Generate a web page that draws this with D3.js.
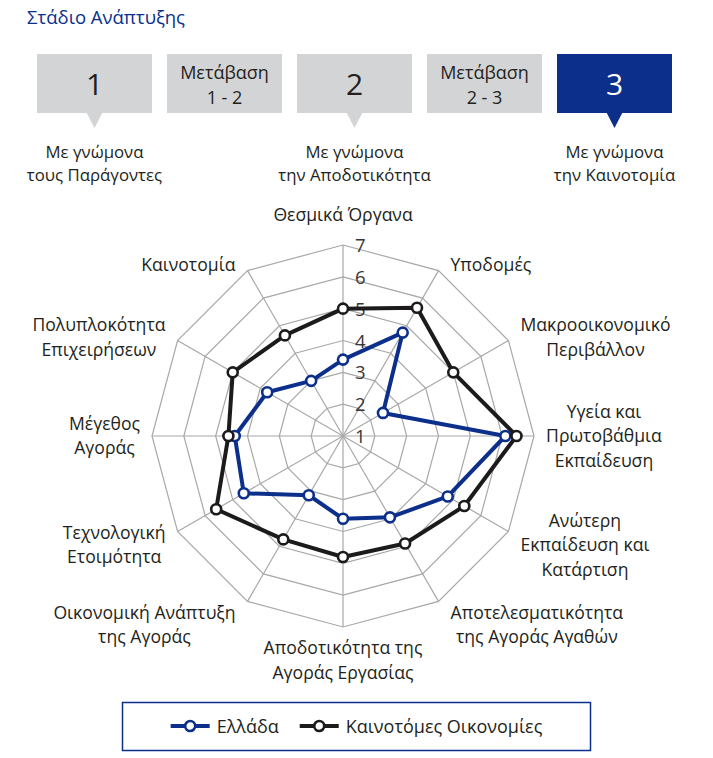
<!DOCTYPE html>
<html>
<head>
<meta charset="utf-8">
<script src="https://cdn.jsdelivr.net/npm/d3@7"></script>
<style>
  html, body { margin: 0; padding: 0; background: #ffffff; }
  svg { display: block; }
  text { font-family: "Open Sans", "Noto Sans", sans-serif; }
</style>
</head>
<body>
<svg id="chart" width="713" height="758"></svg>
<script>
// ---------- DATA ----------
const categories = [
  "Θεσμικά Όργανα",
  "Υποδομές",
  "Μακροοικονομικό\nΠεριβάλλον",
  "Υγεία και\nΠρωτοβάθμια\nΕκπαίδευση",
  "Ανώτερη\nΕκπαίδευση και\nΚατάρτιση",
  "Αποτελεσματικότητα\nτης Αγοράς Αγαθών",
  "Αποδοτικότητα της\nΑγοράς Εργασίας",
  "Οικονομική Ανάπτυξη\nτης Αγοράς",
  "Τεχνολογική\nΕτοιμότητα",
  "Μέγεθος\nΑγοράς",
  "Πολυπλοκότητα\nΕπιχειρήσεων",
  "Καινοτομία"
];
const greeceValues     = [3.4, 4.75, 2.45, 6.1, 4.8, 3.95, 3.6, 3.15, 4.6, 4.4, 3.75, 3.0];
const innovatorsValues = [5.0, 5.65, 5.0, 6.45, 5.4, 4.9, 4.8, 4.75, 5.6, 4.6, 5.0, 4.65];
const seriesNames = ["Ελλάδα", "Καινοτόμες Οικονομίες"];
const tickValues = [1, 2, 3, 4, 5, 6, 7];
const titleText = "Στάδιο Ανάπτυξης";
const stageLabels = ["1", "Μετάβαση\n1 - 2", "2", "Μετάβαση\n2 - 3", "3"];
const stageCaptions = ["Με γνώμονα\nτους Παράγοντες", "", "Με γνώμονα\nτην Αποδοτικότητα", "", "Με γνώμονα\nτην Καινοτομία"];
const activeStage = 4;

// ---------- STYLE ----------
const BLUE = "#0b2f8a";
const BLACK = "#1c1a1a";
const GREY_BOX = "#d3d4d6";
const GRID = "#a8a8a8";
const TEXT = "#231f20";

const svg = d3.select("#chart");

// ---------- HEADER ----------
svg.append("text")
  .attr("x", 27).attr("y", 24)
  .attr("fill", BLUE)
  .attr("font-size", 18.5)
  .text(titleText);

const xBand = d3.scaleBand()
  .domain(d3.range(stageLabels.length))
  .range([37, 672])
  .paddingInner(15 / 130);

const boxTop = 54, boxH = 59;
const stages = svg.append("g").selectAll("g").data(stageLabels).join("g")
  .attr("transform", (d, i) => `translate(${xBand(i)},${boxTop})`);

stages.append("rect")
  .attr("width", xBand.bandwidth())
  .attr("height", boxH)
  .attr("fill", (d, i) => i === activeStage ? BLUE : GREY_BOX);

stages.each(function(d, i) {
  const g = d3.select(this);
  const lines = d.split("\n");
  const cx = xBand.bandwidth() / 2;
  if (lines.length === 1) {
    g.append("text")
      .attr("x", cx).attr("y", boxH / 2 + 11)
      .attr("text-anchor", "middle")
      .attr("font-size", 30)
      .attr("fill", i === activeStage ? "#ffffff" : TEXT)
      .text(d);
  } else {
    lines.forEach((ln, k) => {
      g.append("text")
        .attr("x", cx).attr("y", 25 + k * 25)
        .attr("text-anchor", "middle")
        .attr("font-size", 18)
        .attr("fill", i === activeStage ? "#ffffff" : TEXT)
        .text(ln);
    });
  }
  const cap = stageCaptions[i];
  if (cap) {
    g.append("path")
      .attr("d", `M${cx - 8},${boxH - 0.5} L${cx + 8},${boxH - 0.5} L${cx},${boxH + 15} Z`)
      .attr("fill", i === activeStage ? BLUE : GREY_BOX);
    cap.split("\n").forEach((ln, k) => {
      g.append("text")
        .attr("x", cx).attr("y", 104 + k * 23)
        .attr("text-anchor", "middle")
        .attr("font-size", 16.8)
        .attr("fill", TEXT)
        .text(ln);
    });
  }
});

// ---------- RADAR ----------
const cx = 343, cy = 436, R = 191;
const n = categories.length;
const rScale = d3.scaleLinear().domain([1, 7]).range([0, R]);
const angle = i => i * 2 * Math.PI / n;
const pt = (i, v) => [cx + rScale(v) * Math.sin(angle(i)), cy - rScale(v) * Math.cos(angle(i))];

const grid = svg.append("g");
// rings
tickValues.filter(t => t > 1).forEach(t => {
  grid.append("path")
    .attr("d", d3.line()(d3.range(n).map(i => pt(i, t))) + "Z")
    .attr("fill", "none")
    .attr("stroke", GRID)
    .attr("stroke-width", 1.2);
});
// spokes
d3.range(n).forEach(i => {
  const [x2, y2] = pt(i, 7);
  grid.append("line")
    .attr("x1", cx).attr("y1", cy).attr("x2", x2).attr("y2", y2)
    .attr("stroke", GRID).attr("stroke-width", 1.2);
});

// tick labels
svg.append("g").selectAll("text").data(tickValues).join("text")
  .attr("x", cx + 12)
  .attr("y", d => cy - rScale(d) + 7)
  .attr("font-size", 18.5)
  .attr("fill", "#3a3636")
  .text(d => d);

// series
const seriesData = [
  { name: seriesNames[0], values: greeceValues, color: BLUE },
  { name: seriesNames[1], values: innovatorsValues, color: BLACK }
];
const line = d3.line().curve(d3.curveLinearClosed);
const sg = svg.append("g");
seriesData.forEach(s => {
  const pts = s.values.map((v, i) => pt(i, v));
  sg.append("path")
    .attr("d", line(pts))
    .attr("fill", "none")
    .attr("stroke", s.color)
    .attr("stroke-width", 4)
    .attr("stroke-linejoin", "round");
});
seriesData.forEach(s => {
  const pts = s.values.map((v, i) => pt(i, v));
  sg.selectAll(null).data(pts).join("circle")
    .attr("cx", d => d[0]).attr("cy", d => d[1])
    .attr("r", 5)
    .attr("fill", "#ffffff")
    .attr("stroke", s.color)
    .attr("stroke-width", 2.6);
});

// category labels
const LH = 24.5, FS = 17.6;
const labG = svg.append("g");
categories.forEach((c, i) => {
  const lines = c.split("\n");
  const a = angle(i);
  const s = Math.sin(a), co = Math.cos(a);
  const [ex, ey] = pt(i, 7);
  const t = labG.append("text")
    .attr("font-size", FS)
    .attr("fill", TEXT)
    .attr("text-anchor", "middle");
  lines.forEach((ln, k) => t.append("tspan").attr("x", 0).attr("dy", k === 0 ? 0 : LH).text(ln));
  const bb = t.node().getBBox();
  const w = bb.width, h = lines.length * LH;
  let bx, by; // box center
  if (Math.abs(s) < 0.01) {
    bx = ex;
    by = co > 0 ? ey - 18 - h / 2 : ey + 9 + h / 2;
  } else {
    bx = ex + Math.sign(s) * (12 + w / 2);
    by = ey + (co > 0 ? -6.5 * co : -27 * co);
  }
  const firstBase = by - h / 2 + LH / 2 + 6;
  t.attr("transform", `translate(${bx},${firstBase})`);
});

// ---------- LEGEND ----------
const legG = svg.append("g");
legG.append("rect")
  .attr("x", 122.5).attr("y", 702.5)
  .attr("width", 468).attr("height", 48)
  .attr("fill", "none")
  .attr("stroke", BLUE)
  .attr("stroke-width", 1.5);
const legY = 726;
const items = legG.selectAll("g.item").data(seriesData).join("g").attr("class", "item");
const itemNodes = [];
items.each(function(d) {
  const g = d3.select(this);
  g.append("line").attr("x1", 0).attr("x2", 39).attr("y1", 0).attr("y2", 0)
    .attr("stroke", d.color).attr("stroke-width", 4);
  g.append("circle").attr("cx", 19.5).attr("cy", 0).attr("r", 5)
    .attr("fill", "#fff").attr("stroke", d.color).attr("stroke-width", 2.6);
  const tx = g.append("text").attr("x", 46).attr("y", 6.5)
    .attr("font-size", 18).attr("fill", TEXT).text(d.name);
  const w = 46 + tx.node().getComputedTextLength();
  itemNodes.push({ g, w });
});
const gapItems = 21;
const totalW = d3.sum(itemNodes, d => d.w) + gapItems * (itemNodes.length - 1);
let curX = 356.5 - totalW / 2;
itemNodes.forEach(it => {
  it.g.attr("transform", `translate(${curX},${legY})`);
  curX += it.w + gapItems;
});
</script>
</body>
</html>
